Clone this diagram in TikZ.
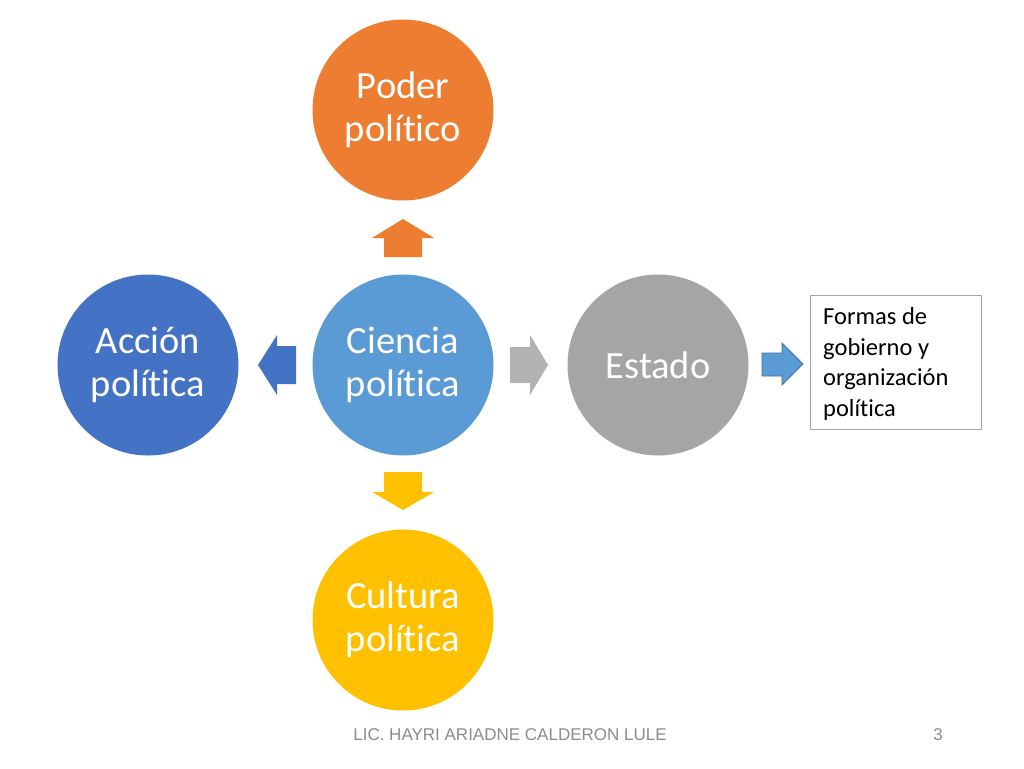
\documentclass[tikz,border=0pt]{standalone}
\usepackage{fontspec}
\setmainfont{Carlito}[Ligatures={NoCommon,NoRequired,NoContextual}]
\newfontfamily\footfont{Liberation Sans}
\definecolor{cOrange}{HTML}{ED7D31}
\definecolor{cBlueL}{HTML}{5B9BD5}
\definecolor{cBlueD}{HTML}{4472C4}
\definecolor{cGray}{HTML}{A5A5A5}
\definecolor{cGrayA}{HTML}{B2B2B2}
\definecolor{cYellow}{HTML}{FFC000}
\definecolor{cEdge}{HTML}{41719C}
\definecolor{cBox}{HTML}{A6A6A6}
\definecolor{cFoot}{HTML}{8C8C8C}
\begin{document}
\begin{tikzpicture}[x=1pt,y=-1pt,
  bubble/.style={circle,minimum size=181pt,inner sep=0pt,text=white,align=center,
     font=\fontsize{38.5}{43}\selectfont},
  infobox/.style={draw=cBox,line width=0.9pt,minimum width=171pt,minimum height=134pt,
     inner sep=0pt},
  infotext/.style={inner sep=0pt,align=left,font=\fontsize{24.5}{30.5}\selectfont},
  foot/.style={font=\footfont\fontsize{17}{18}\selectfont,text=cFoot,inner sep=0pt}]
\useasboundingbox[fill=white] (0,0) rectangle (1024,768);
% circles
\node[bubble,fill=cOrange] (poder) at (403,110) {Poder\\político};
\node[bubble,fill=cBlueL] (ciencia) at (403,365) {Ciencia\\política};
\node[bubble,fill=cBlueD] (accion) at (148,365) {Acción\\política};
\node[bubble,fill=cGray] (estado) at (658,365) {Estado};
\node[bubble,fill=cYellow] (cultura) at (403,620) {Cultura\\política};
% block arrows
\fill[cOrange] (384,257) -- (384,238) -- (372,238) -- (403,219) -- (434,238) -- (422,238) -- (422,257) -- cycle;
\fill[cYellow] (384,472) -- (384,492) -- (372,492) -- (403,510) -- (434,492) -- (422,492) -- (422,472) -- cycle;
\fill[cBlueD] (296,346) -- (277,346) -- (277,335) -- (258,365) -- (277,395) -- (277,384) -- (296,384) -- cycle;
\fill[cGrayA] (510,347) -- (530,347) -- (530,335) -- (548,365) -- (530,395) -- (530,383) -- (510,383) -- cycle;
\filldraw[fill=cBlueL,draw=cEdge,line width=0.9pt] (762,353) -- (782,353) -- (782,343) -- (803,364) -- (782,385) -- (782,376) -- (762,376) -- cycle;
% box
\node[infobox,anchor=north west] (formas) at (810,295) {};
\node[infotext,anchor=west] (formastxt) at (823,364) {Formas de\\gobierno y\\organización\\política};
% footer
\node[foot,anchor=base] (autor) at (510,740) {LIC. HAYRI ARIADNE CALDERON LULE};
\node[foot,anchor=base] (pagina) at (938,740) {3};
\end{tikzpicture}
\end{document}
